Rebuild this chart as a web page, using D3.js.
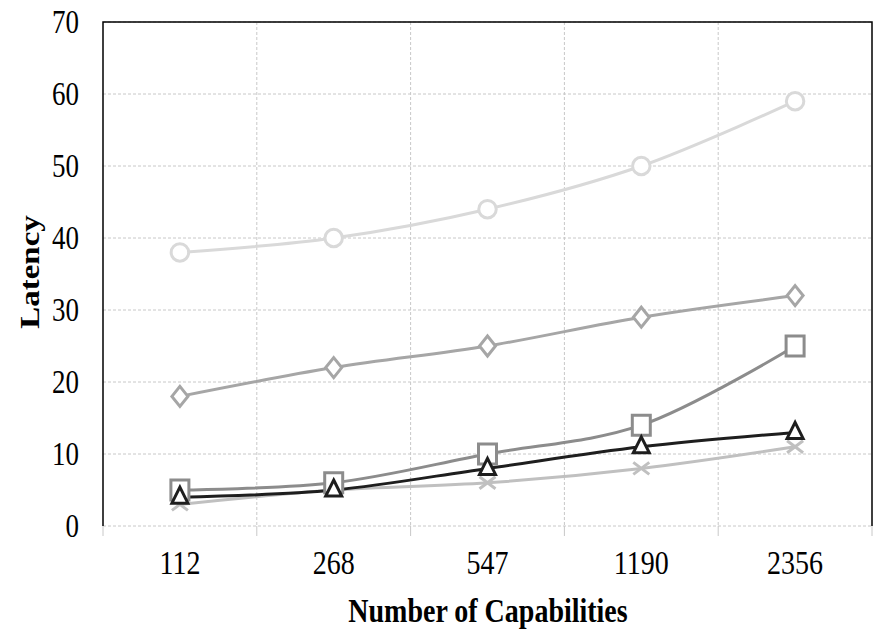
<!DOCTYPE html>
<html>
<head>
<meta charset="utf-8">
<script src="https://cdn.jsdelivr.net/npm/d3@7"></script>
<style>
  body { margin: 0; background: #fff; }
  text { font-family: "Liberation Serif", "Times New Roman", "DejaVu Serif", serif; fill: #000; }
</style>
</head>
<body>
<svg id="chart" width="874" height="629"></svg>
<script>
// Chart data
var categories = ["112", "268", "547", "1190", "2356"];
var yTicks = [0, 10, 20, 30, 40, 50, 60, 70];
var circleSeries = [38, 40, 44, 50, 59];
var diamondSeries = [18, 22, 25, 29, 32];
var squareSeries = [5, 6, 10, 14, 25];
var triangleSeries = [4, 5, 8, 11, 13];
var crossSeries = [3, 5, 6, 8, 11];

var svg = d3.select("#chart");

// Plot area
var margin = { top: 22, right: 2, bottom: 103, left: 103 };
var width = 874 - margin.left - margin.right;
var height = 629 - margin.top - margin.bottom;
var stretch = 1.22; // text in the reference is tall and narrow

var xScale = d3.scaleBand()
    .domain(categories)
    .range([margin.left, margin.left + width]);

var yScale = d3.scaleLinear()
    .domain([0, 70])
    .range([margin.top + height, margin.top]);

// Horizontal grid lines
svg.append("g")
    .selectAll("line")
    .data(yTicks)
    .enter()
    .append("line")
    .attr("x1", margin.left)
    .attr("x2", margin.left + width)
    .attr("y1", d => yScale(d))
    .attr("y2", d => yScale(d))
    .attr("stroke", "#c8c8c8")
    .attr("stroke-width", 1)
    .attr("stroke-dasharray", "3,2");

// Vertical grid lines at band boundaries
var bounds = categories.slice(1).map(d => xScale(d));
svg.append("g")
    .selectAll("line")
    .data(bounds)
    .enter()
    .append("line")
    .attr("x1", d => d)
    .attr("x2", d => d)
    .attr("y1", margin.top)
    .attr("y2", margin.top + height)
    .attr("stroke", "#c8c8c8")
    .attr("stroke-width", 1)
    .attr("stroke-dasharray", "3,2");

// Tick marks below the x axis
var tickPos = categories.map(d => xScale(d)).concat([margin.left + width]);
svg.append("g")
    .selectAll("line")
    .data(tickPos)
    .enter()
    .append("line")
    .attr("x1", d => d)
    .attr("x2", d => d)
    .attr("y1", margin.top + height)
    .attr("y2", margin.top + height + 10)
    .attr("stroke", "#c8c8c8")
    .attr("stroke-width", 1);

// Frame: left, top, right
svg.append("path")
    .attr("d", "M" + margin.left + "," + (margin.top + height) +
        "V" + margin.top + "H" + (margin.left + width) + "V" + (margin.top + height))
    .attr("fill", "none")
    .attr("stroke", "#000")
    .attr("stroke-width", 1.5);

// Y tick labels
svg.append("g")
    .selectAll("text")
    .data(yTicks)
    .enter()
    .append("text")
    .attr("transform", d => "translate(79," + (yScale(d) + 11) + ") scale(1," + stretch + ")")
    .attr("text-anchor", "end")
    .style("font-size", "27px")
    .text(d => d);

// X tick labels
svg.append("g")
    .selectAll("text")
    .data(categories)
    .enter()
    .append("text")
    .attr("transform", d => "translate(" + (xScale(d) + xScale.bandwidth() / 2) + ",574) scale(1," + stretch + ")")
    .attr("text-anchor", "middle")
    .style("font-size", "28px")
    .text(d => d);

// Axis titles
svg.append("text")
    .attr("transform", "translate(488,622) scale(1," + stretch + ")")
    .attr("text-anchor", "middle")
    .style("font-size", "28px")
    .style("font-weight", "bold")
    .text("Number of Capabilities");

svg.append("text")
    .attr("transform", "translate(39,272) scale(1," + stretch + ") rotate(-90)")
    .attr("text-anchor", "middle")
    .style("font-size", "27px")
    .style("font-weight", "bold")
    .text("Latency");

// Lines and markers
var line = d3.line()
    .x((d, i) => xScale(categories[i]) + xScale.bandwidth() / 2)
    .y(d => yScale(d))
    .curve(d3.curveCatmullRom.alpha(0.5));

var series = [
    { values: crossSeries, color: "#c0c0c0", marker: "cross" },
    { values: circleSeries, color: "#d9d9d9", marker: "circle" },
    { values: diamondSeries, color: "#a6a6a6", marker: "diamond" },
    { values: squareSeries, color: "#8c8c8c", marker: "square" },
    { values: triangleSeries, color: "#1e1e1e", marker: "triangle" }
];

series.forEach(function (s) {
    svg.append("path")
        .datum(s.values)
        .attr("fill", "none")
        .attr("stroke", s.color)
        .attr("stroke-width", 3)
        .attr("d", line);
});

function markerPath(type) {
    if (type === "circle") return d3.symbol().type(d3.symbolCircle).size(240)();
    if (type === "diamond") return "M0,-10L8,0L0,10L-8,0Z";
    if (type === "square") return "M-9,-10H9V10H-9Z";
    if (type === "triangle") return "M0,-10L8,6H-8Z";
    return "M-8,-6L8,6M-8,6L8,-6";
}

series.forEach(function (s) {
    svg.append("g")
        .selectAll("path")
        .data(s.values)
        .enter()
        .append("path")
        .attr("transform", (d, i) => "translate(" + (xScale(categories[i]) + xScale.bandwidth() / 2) + "," + yScale(d) + ")")
        .attr("d", markerPath(s.marker))
        .attr("fill", s.marker === "cross" ? "none" : "#fff")
        .attr("stroke", s.color)
        .attr("stroke-width", 3);
});
</script>
</body>
</html>
